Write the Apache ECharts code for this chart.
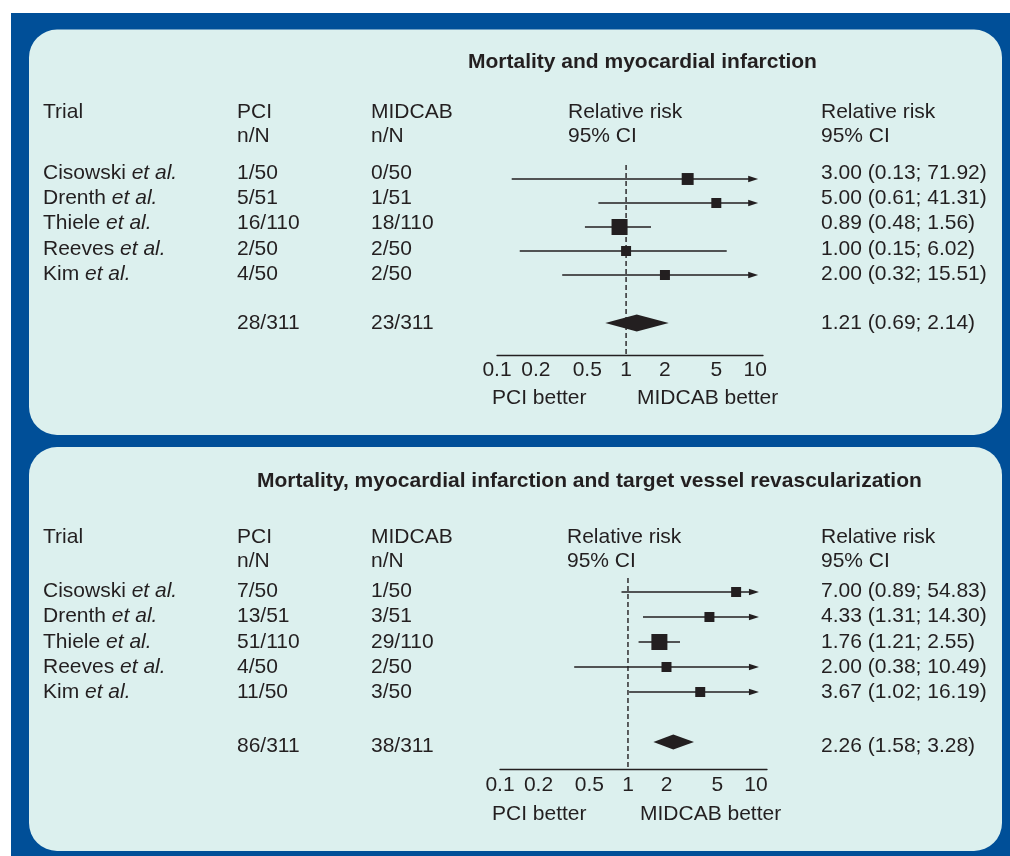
<!DOCTYPE html>
<html>
<head>
<meta charset="utf-8">
<script src="https://cdn.jsdelivr.net/npm/echarts@6/dist/echarts.min.js"></script>
<style>
html,body{margin:0;padding:0;background:#ffffff;}
#c{width:1010px;height:856px;}
</style>
</head>
<body>
<div id="c"></div>
<script>
// ---------------- DATA ----------------
const trials = ['Cisowski', 'Drenth', 'Thiele', 'Reeves', 'Kim'];
const studyRows = [0, 1, 2, 3, 4];
const summaryRow = 6;

// Panel 1: Mortality and myocardial infarction
const mi_title = 'Mortality and myocardial infarction';
const mi_pci = ['1/50', '5/51', '16/110', '2/50', '4/50'];
const mi_midcab = ['0/50', '1/51', '18/110', '2/50', '2/50'];
const mi_rr = [3.00, 5.00, 0.89, 1.00, 2.00];
const mi_lo = [0.13, 0.61, 0.48, 0.15, 0.32];
const mi_hi = [71.92, 41.31, 1.56, 6.02, 15.51];
const mi_weight = [20, 14, 36, 14, 14];
const mi_totals = ['28/311', '23/311'];
const mi_pooled = [1.21, 0.69, 2.14];

// Panel 2: Mortality, MI and target vessel revascularization
const tvr_title = 'Mortality, myocardial infarction and target vessel revascularization';
const tvr_pci = ['7/50', '13/51', '51/110', '4/50', '11/50'];
const tvr_midcab = ['1/50', '3/51', '29/110', '2/50', '3/50'];
const tvr_rr = [7.00, 4.33, 1.76, 2.00, 3.67];
const tvr_lo = [0.89, 1.31, 1.21, 0.38, 1.02];
const tvr_hi = [54.83, 14.30, 2.55, 10.49, 16.19];
const tvr_weight = [14, 14, 36, 14, 14];
const tvr_totals = ['86/311', '38/311'];
const tvr_pooled = [2.26, 1.58, 3.28];

// Axis ticks
const tickValues = [0.1, 0.2, 0.5, 1, 2, 5, 10];
const tickLabels = ['0.1', '0.2', '0.5', '1', '2', '5', '10'];
const nullValue = 1;
const clipValue = 10;

// Column headers
const headerTop = ['Trial', 'PCI', 'MIDCAB', 'Relative risk', 'Relative risk'];
const headerSub = ['', 'n/N', 'n/N', '95% CI', '95% CI'];
const favourLabels = ['PCI better', 'MIDCAB better'];

// ---------------- STYLE / LAYOUT ----------------
const FONT = '"Liberation Sans", Arial, Helvetica, sans-serif';
const FS = 21;
const INK = '#231f20';
const BLUE = '#004f98';
const PANEL = '#dcf0ee';

const panels = [
  {
    title: mi_title, pci: mi_pci, midcab: mi_midcab, rr: mi_rr, lo: mi_lo, hi: mi_hi,
    weight: mi_weight, totals: mi_totals, pooled: mi_pooled,
    box: {x: 29, y: 29.5, w: 973, h: 405.5},
    titleX: 468, titleY: 62, headY: 112, subY: 136,
    colX: [43, 237, 371, 568, 821],
    rowY0: 173, rowStep: 25.25, sumY: 323,
    favourY: 398, favourX: [492, 637],
    grid: {left: 497, top: 155, width: 266, height: 192},
    xMax: 11.5, axisOffset: 8, dashGap: 10, labelGap: 15, diamondHalf: 8.5
  },
  {
    title: tvr_title, pci: tvr_pci, midcab: tvr_midcab, rr: tvr_rr, lo: tvr_lo, hi: tvr_hi,
    weight: tvr_weight, totals: tvr_totals, pooled: tvr_pooled,
    box: {x: 29, y: 447, w: 973, h: 404},
    titleX: 257, titleY: 481, headY: 537, subY: 561,
    colX: [43, 237, 371, 567, 821],
    rowY0: 591, rowStep: 25.4, sumY: 746,
    favourY: 814, favourX: [492, 640],
    grid: {left: 500, top: 567, width: 267, height: 200},
    xMax: 12.2, axisOffset: 2, dashGap: 11, labelGap: 16, diamondHalf: 7.5
  }
];

function fmtCI(rr, lo, hi) {
  return rr.toFixed(2) + ' (' + lo.toFixed(2) + '; ' + hi.toFixed(2) + ')';
}

function txt(x, y, text, extra) {
  return {
    type: 'text', x: x, y: y, z: 10, silent: true,
    style: Object.assign({
      text: text, fill: INK, fontSize: FS, fontFamily: FONT,
      align: 'left', verticalAlign: 'middle'
    }, (extra || {}))
  };
}

// ---------------- GRAPHIC (frame + text table) ----------------
const graphic = [];
graphic.push({type: 'rect', z: -3, silent: true, shape: {x: 11, y: 13, width: 999, height: 843}, style: {fill: BLUE}});
panels.forEach(function (p) {
  graphic.push({type: 'rect', z: -2, silent: true,
    shape: {x: p.box.x, y: p.box.y, width: p.box.w, height: p.box.h, r: 28},
    style: {fill: PANEL}});
  graphic.push(txt(p.titleX, p.titleY, p.title, {fontWeight: 'bold'}));
  headerTop.forEach(function (h, i) { graphic.push(txt(p.colX[i], p.headY, h)); });
  headerSub.forEach(function (h, i) { if (h) graphic.push(txt(p.colX[i], p.subY, h)); });
  trials.forEach(function (t, i) {
    const y = p.rowY0 + i * p.rowStep;
    graphic.push({
      type: 'text', x: p.colX[0], y: y, z: 10, silent: true,
      style: {
        text: '{n|' + t + ' }{i|et al.}',
        align: 'left', verticalAlign: 'middle', fill: INK, fontSize: FS, fontFamily: FONT,
        rich: {
          n: {fontSize: FS, fontFamily: FONT, fill: INK},
          i: {fontSize: FS, fontFamily: FONT, fill: INK, fontStyle: 'italic'}
        }
      }
    });
    graphic.push(txt(p.colX[1], y, p.pci[i]));
    graphic.push(txt(p.colX[2], y, p.midcab[i]));
    graphic.push(txt(p.colX[4], y, fmtCI(p.rr[i], p.lo[i], p.hi[i])));
  });
  graphic.push(txt(p.colX[1], p.sumY, p.totals[0]));
  graphic.push(txt(p.colX[2], p.sumY, p.totals[1]));
  graphic.push(txt(p.colX[4], p.sumY, fmtCI(p.pooled[0], p.pooled[1], p.pooled[2])));
  graphic.push(txt(p.favourX[0], p.favourY, favourLabels[0]));
  graphic.push(txt(p.favourX[1], p.favourY, favourLabels[1]));
});

// ---------------- SERIES ----------------
const grids = [], xAxes = [], yAxes = [], series = [];
panels.forEach(function (p, k) {
  grids.push({left: p.grid.left, top: p.grid.top, width: p.grid.width, height: p.grid.height, containLabel: false});
  xAxes.push({
    gridIndex: k, type: 'log', logBase: 10, min: 0.1, max: p.xMax, offset: p.axisOffset, z: 5,
    axisLine: {show: true, onZero: false, lineStyle: {color: INK, width: 1.3}},
    axisTick: {show: false}, axisLabel: {show: false}, splitLine: {show: false}
  });
  yAxes.push({gridIndex: k, type: 'value', inverse: true, min: -1, max: 7, show: false});

  // Null (RR = 1) dashed line
  series.push({
    type: 'custom', xAxisIndex: k, yAxisIndex: k, z: 3, silent: true,
    data: [[nullValue, 0]],
    renderItem: function (params, api) {
      const x = api.coord([api.value(0), 0])[0];
      const cs = params.coordSys;
      return {type: 'line',
        shape: {x1: x, y1: cs.y + p.dashGap, x2: x, y2: cs.y + cs.height + p.axisOffset},
        style: {stroke: INK, lineWidth: 1.4, lineDash: [5, 3]}};
    }
  });

  // Tick labels
  series.push({
    type: 'custom', xAxisIndex: k, yAxisIndex: k, z: 3, silent: true,
    data: tickValues.map(function (v) { return [v, 0]; }),
    renderItem: function (params, api) {
      const x = api.coord([api.value(0), 0])[0];
      const cs = params.coordSys;
      return {type: 'text', x: x, y: cs.y + cs.height + p.axisOffset + p.labelGap,
        style: {text: tickLabels[params.dataIndex], fill: INK, fontSize: FS, fontFamily: FONT,
          align: 'center', verticalAlign: 'middle'}};
    }
  });

  // Studies: CI lines + weighted squares
  series.push({
    type: 'custom', xAxisIndex: k, yAxisIndex: k, z: 4, silent: true,
    dimensions: ['rr', 'lo', 'hi', 'row', 'w'],
    encode: {x: [0, 1, 2], y: 3},
    data: trials.map(function (t, i) { return [p.rr[i], p.lo[i], p.hi[i], studyRows[i], p.weight[i]]; }),
    renderItem: function (params, api) {
      const rr = api.value(0), lo = api.value(1), hi = api.value(2), row = api.value(3), w = api.value(4);
      const c = api.coord([rr, row]);
      const l = api.coord([lo, row]);
      const y = c[1];
      const arrow = hi > clipValue;
      const xEnd = arrow ? api.coord([clipValue, row])[0] + 3 : api.coord([hi, row])[0];
      const size = Math.sqrt(w) * 2.67;
      const children = [{
        type: 'line',
        shape: {x1: l[0], y1: y, x2: arrow ? xEnd - 8 : xEnd, y2: y},
        style: {stroke: INK, lineWidth: 1.3}
      }];
      if (arrow) {
        children.push({type: 'polygon',
          shape: {points: [[xEnd, y], [xEnd - 10, y - 3.3], [xEnd - 10, y + 3.3]]},
          style: {fill: INK}});
      }
      children.push({type: 'rect',
        shape: {x: c[0] - size / 2, y: y - size / 2, width: size, height: size},
        style: {fill: INK}});
      return {type: 'group', children: children};
    }
  });

  // Pooled estimate diamond
  series.push({
    type: 'custom', xAxisIndex: k, yAxisIndex: k, z: 4, silent: true,
    dimensions: ['rr', 'lo', 'hi', 'row'],
    encode: {x: [0, 1, 2], y: 3},
    data: [[p.pooled[0], p.pooled[1], p.pooled[2], summaryRow]],
    renderItem: function (params, api) {
      const row = api.value(3);
      const c = api.coord([api.value(0), row]);
      const l = api.coord([api.value(1), row]);
      const h = api.coord([api.value(2), row]);
      const d = p.diamondHalf;
      return {type: 'polygon',
        shape: {points: [[l[0], c[1]], [c[0], c[1] - d], [h[0], c[1]], [c[0], c[1] + d]]},
        style: {fill: INK}};
    }
  });
});

const chart = echarts.init(document.getElementById('c'), null, {renderer: 'canvas'});
chart.setOption({
  animation: false,
  backgroundColor: '#ffffff',
  graphic: graphic,
  grid: grids,
  xAxis: xAxes,
  yAxis: yAxes,
  series: series
});
</script>
</body>
</html>
